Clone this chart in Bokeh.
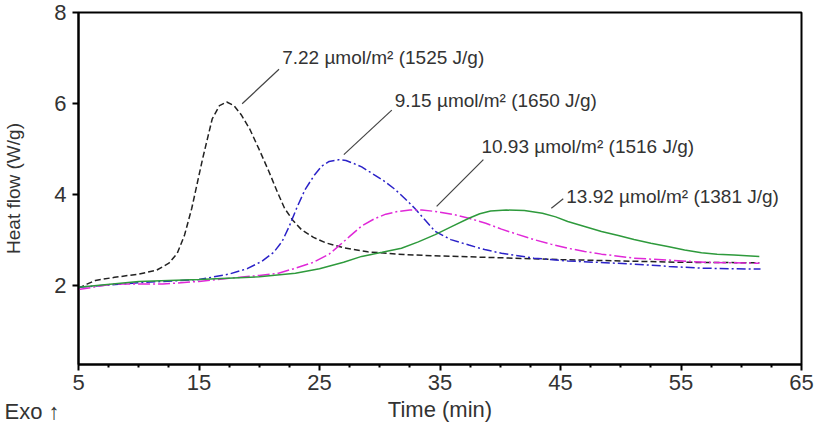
from bokeh.plotting import figure
from bokeh.models import FixedTicker, Range1d, Label, Title
from bokeh.embed import file_html
from bokeh.resources import INLINE

# --- data ---
t_722 = [5, 5.7, 6.4, 8, 10, 11.5, 12.5, 13.2, 13.8, 14.4, 15.3, 16.1, 16.7, 17.3, 17.9, 18.5, 19.2, 20.0, 20.8, 21.5, 22.1, 22.8, 23.5, 24.5, 25.5, 27, 29, 32, 35, 40, 45, 50, 55, 61.5]
h_722 = [1.93, 2.02, 2.1, 2.17, 2.24, 2.33, 2.48, 2.7, 3.1, 3.69, 4.78, 5.66, 5.95, 6.03, 5.95, 5.75, 5.44, 4.98, 4.5, 4.05, 3.69, 3.42, 3.22, 3.05, 2.93, 2.82, 2.73, 2.67, 2.64, 2.6, 2.56, 2.53, 2.5, 2.49]

t_915 = [5, 10, 15, 17.5, 19, 20.2, 21.2, 21.9, 22.5, 23.1, 23.8, 24.6, 25.2, 25.8, 26.6, 27.2, 27.8, 28.5, 29.1, 30.2, 31.2, 32.1, 32.9, 33.8, 34.6, 35.9, 37.4, 38.7, 40.1, 42.8, 45.6, 48, 51.1, 54, 56.7, 61.6]
h_915 = [1.95, 2.05, 2.12, 2.24, 2.36, 2.52, 2.72, 2.96, 3.3, 3.69, 4.1, 4.43, 4.62, 4.72, 4.76, 4.74, 4.68, 4.6, 4.5, 4.32, 4.12, 3.9, 3.69, 3.42, 3.18, 3.0, 2.88, 2.78, 2.7, 2.59, 2.53, 2.5, 2.46, 2.41, 2.37, 2.35]

t_1093 = [5, 7.8, 12, 15, 17.5, 20, 21.6, 23, 24.5, 25.8, 26.6, 27.5, 28.5, 29.5, 30.5, 31.5, 32.5, 33.5, 34.6, 36, 37.4, 38.8, 40.1, 41.5, 42.8, 44.2, 45.6, 47, 48.4, 51.1, 53.9, 57, 61.5]
h_1093 = [1.9, 2.02, 2.02, 2.08, 2.15, 2.21, 2.26, 2.37, 2.5, 2.68, 2.86, 3.07, 3.3, 3.45, 3.56, 3.62, 3.65, 3.65, 3.62, 3.56, 3.47, 3.36, 3.23, 3.11, 3.0, 2.9, 2.81, 2.74, 2.68, 2.59, 2.55, 2.5, 2.48]

t_1392 = [5, 10, 15, 20, 23, 25, 27, 28.5, 30.2, 31.8, 33.2, 34.6, 36, 37.4, 38.3, 39.2, 40.5, 42, 43.5, 44.6, 45.6, 47, 48.4, 49.8, 51.1, 52.5, 53.9, 55.3, 56.7, 58, 59.4, 61.5]
h_1392 = [1.95, 2.08, 2.12, 2.18, 2.26, 2.36, 2.5, 2.63, 2.72, 2.81, 2.95, 3.11, 3.29, 3.47, 3.57, 3.63, 3.65, 3.64, 3.58, 3.5, 3.4, 3.29, 3.18, 3.09, 3.0, 2.92, 2.85, 2.77, 2.71, 2.68, 2.66, 2.63]

labels = ["7.22 \u00b5mol/m\u00b2 (1525 J/g)", "9.15 \u00b5mol/m\u00b2 (1650 J/g)",
          "10.93 \u00b5mol/m\u00b2 (1516 J/g)", "13.92 \u00b5mol/m\u00b2 (1381 J/g)"]
label_x = [21.9, 31.24, 38.44, 45.48]
label_y = [7.01, 6.07, 5.04, 3.95]
leader_x0 = [18.58, 27.02, 34.72, 44.24]
leader_y0 = [5.99, 4.87, 3.73, 3.69]
leader_x1 = [21.64, 31.0, 38.6, 45.23]
leader_y1 = [6.75, 5.85, 4.76, 3.9]

x_ticks = [5, 15, 25, 35, 45, 55, 65]
x_minor = [7.5, 10, 12.5, 17.5, 20, 22.5, 27.5, 30, 32.5, 37.5, 40, 42.5, 47.5, 50, 52.5, 57.5, 60, 62.5]
y_ticks = [2, 4, 6, 8]

FONT = "Liberation Sans"

p = figure(width=820, height=435, output_backend="svg", toolbar_location=None,
           x_range=Range1d(5, 65), y_range=Range1d(0.25, 8),
           min_border_left=76, min_border_right=19, min_border_top=12, min_border_bottom=71)
p.background_fill_color = "white"
p.border_fill_color = "white"
p.grid.visible = False
p.outline_line_color = "black"
p.outline_line_width = 2

p.line(t_722, h_722, line_color="#222222", line_width=1.5, line_dash="6 3")
p.line(t_915, h_915, line_color="#2b22c8", line_width=1.5, line_dash="9 3 2 3")
p.line(t_1093, h_1093, line_color="#e028d8", line_width=1.5, line_dash="12 3 2 3")
p.line(t_1392, h_1392, line_color="#2e9a3c", line_width=1.5)

p.segment(leader_x0, leader_y0, leader_x1, leader_y1, line_color="#444444", line_width=1.2)
for tx, ty, lab in zip(label_x, label_y, labels):
    p.add_layout(Label(x=tx, y=ty, text=lab, text_font=FONT, text_font_size="19px",
                       text_color="#333333", text_baseline="middle", text_align="left"))

xa = p.xaxis[0]
xa.ticker = FixedTicker(ticks=x_ticks, minor_ticks=x_minor)
ya = p.yaxis[0]
ya.ticker = FixedTicker(ticks=y_ticks)
for ax in (xa, ya):
    ax.axis_line_width = 2
    ax.axis_line_color = "black"
    ax.major_tick_line_width = 2
    ax.major_tick_line_color = "black"
    ax.minor_tick_line_width = 2
    ax.minor_tick_line_color = "black"
    ax.major_tick_in = 0
    ax.major_tick_out = 6
    ax.minor_tick_in = 0
    ax.minor_tick_out = 3
    ax.major_label_text_font = FONT
    ax.major_label_text_font_size = "22px"
    ax.major_label_text_color = "#333333"
    ax.axis_label_text_font = FONT
    ax.axis_label_text_font_style = "normal"
    ax.axis_label_text_color = "#333333"
ya.minor_tick_out = 0
xa.major_label_standoff = 4
ya.major_label_standoff = 6
xa.axis_label = "Time (min)"
xa.axis_label_text_font_size = "22px"
xa.axis_label_standoff = 4
ya.axis_label = "Heat flow (W/g)"
ya.axis_label_text_font_size = "19px"
ya.axis_label_standoff = 27

exo = Title(text="Exo \u2191", align="left", vertical_align="top", offset=-74, standoff=-52,
            text_font=FONT, text_font_size="22px", text_font_style="normal",
            text_color="#333333")
p.add_layout(exo, "below")

open("out.html", "w").write(file_html(p, INLINE))
